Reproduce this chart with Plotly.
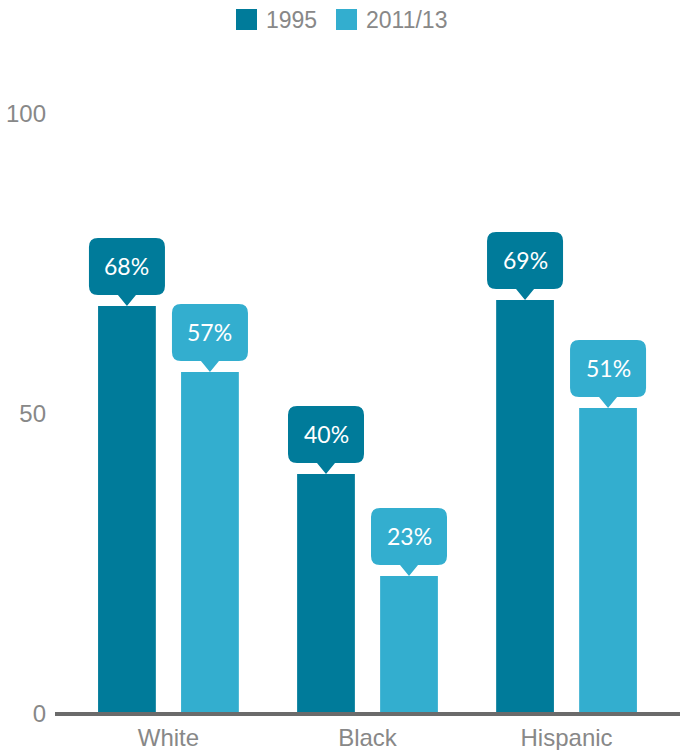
import plotly.graph_objects as go

categories = ["White", "Black", "Hispanic"]
series_names = ["1995", "2011/13"]
values_1995 = [68, 40, 69]
values_2013 = [57, 23, 51]
y_ticks = [0, 50, 100]

colors = ["#007b9a", "#33aecf"]
series_values = [values_1995, values_2013]

W, H = 680, 750
ML, MR, MT, MB = 55, 0, 114, 36
BARGAP = 0.166
GROUPGAP = 0.304
xs = list(range(len(categories)))

fig = go.Figure()
for name, vals, col in zip(series_names, series_values, colors):
    fig.add_trace(go.Bar(x=xs, y=vals, name=name, marker=dict(color=col, line=dict(width=0)),
                         showlegend=False, hoverinfo="skip"))

# callout shape (pixel units relative to bar top centre)
hw, b, t, r, p = 38, 11, 68, 9, 9
callout = (f"M 0,0 L {p},{b} L {hw-r},{b} Q {hw},{b} {hw},{b+r} L {hw},{t-r} "
           f"Q {hw},{t} {hw-r},{t} L {-hw+r},{t} Q {-hw},{t} {-hw},{t-r} "
           f"L {-hw},{b+r} Q {-hw},{b} {-hw+r},{b} L {-p},{b} Z")

slot = (1 - BARGAP) / len(series_names)
shapes = []
annotations = []
for k, (vals, col) in enumerate(zip(series_values, colors)):
    for i, v in enumerate(vals):
        xc = xs[i] + (k - (len(series_names) - 1) / 2) * slot
        shapes.append(dict(type="path", xref="x", yref="y", xsizemode="pixel", ysizemode="pixel",
                           xanchor=xc, yanchor=v, path=callout,
                           fillcolor=col, line=dict(width=0), layer="above"))
        annotations.append(dict(x=xc, y=v, xref="x", yref="y", text=f"{v}%", showarrow=False,
                                yshift=(b + t) / 2 + 1,
                                font=dict(family="Lato", size=23, color="white")))

# axis baseline (paper refs so it is not clipped at the plot edge)
shapes.append(dict(type="line", xref="paper", yref="paper", x0=0, x1=1, y0=0, y1=0,
                   line=dict(color="#6b6b6b", width=4), layer="above"))

# custom legend
pw = W - ML - MR
ph = H - MT - MB
def px2paper(px, py):
    return (px - ML) / pw, (H - MB - py) / ph

legend_x = [236, 336]
for name, col, lx in zip(series_names, colors, legend_x):
    x0, y0 = px2paper(lx, 30)
    x1, y1 = px2paper(lx + 21, 9)
    shapes.append(dict(type="rect", xref="paper", yref="paper", x0=x0, x1=x1, y0=y0, y1=y1,
                       fillcolor=col, line=dict(width=0)))
    tx, ty = px2paper(lx + 28, 19.5)
    annotations.append(dict(x=tx, y=ty, xref="paper", yref="paper", text=name, showarrow=False,
                            xanchor="left", yanchor="middle",
                            font=dict(family="Liberation Sans, Arial", size=23, color="#888888")))

fig.update_layout(
    width=W, height=H,
    margin=dict(l=ML, r=MR, t=MT, b=MB),
    paper_bgcolor="white", plot_bgcolor="white",
    barmode="group", bargap=BARGAP, bargroupgap=GROUPGAP,
    shapes=shapes, annotations=annotations,
    xaxis=dict(tickmode="array", tickvals=xs, ticktext=categories, range=[-0.57, 2.57],
               showgrid=False, zeroline=False, showline=False, ticks="",
               tickfont=dict(family="Liberation Sans, Arial", size=24, color="#888888"),
               ticklabelstandoff=7, fixedrange=True),
    yaxis=dict(range=[0, 100], tickvals=y_ticks, showgrid=False, zeroline=False, showline=False,
               ticks="", tickfont=dict(family="Liberation Sans, Arial", size=24, color="#888888"),
               ticklabelstandoff=8, fixedrange=True),
    showlegend=False,
)

fig.write_html("out.html", config={"displayModeBar": False},
               post_script="document.body.style.margin='0';document.body.style.overflow='hidden';")
